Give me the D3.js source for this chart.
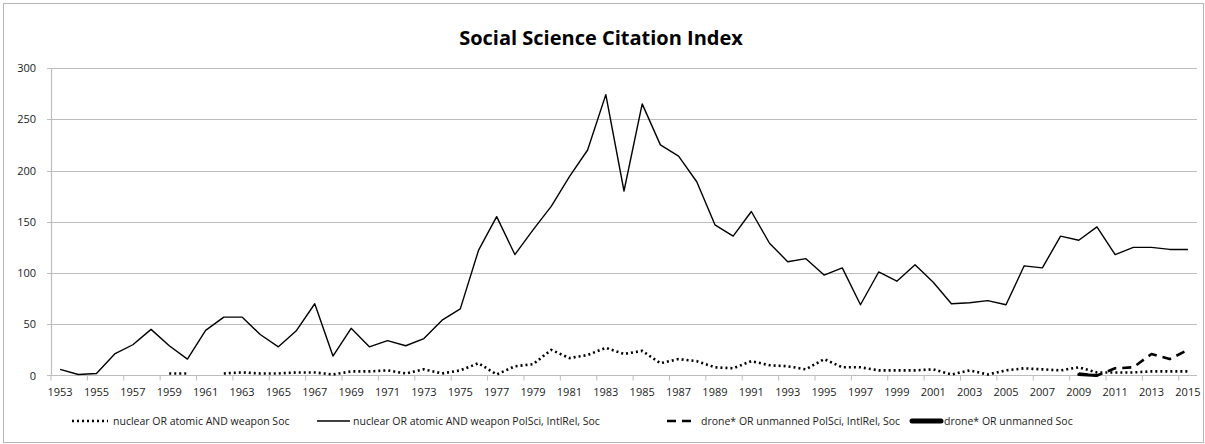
<!DOCTYPE html>
<html>
<head>
<meta charset="utf-8">
<script src="https://cdn.jsdelivr.net/npm/d3@7"></script>
<style>
  body { margin: 0; background: #fff; }
  text { font-family: "Open Sans", "Liberation Sans", sans-serif; }
</style>
</head>
<body>
<script>
var years = d3.range(1953, 2016);

// nuclear OR atomic AND weapon PolSci, IntlRel, Soc
var polsci = [6,1,2,21,30,45,29,16,44,57,57,40,28,44,70,19,46,28,34,29,36,54,65,122,155,118,142,165,194,220,
  274,180,265,225,214,189,147,136,160,129,111,114,98,105,69,101,92,108,91,70,71,73,69,107,105,136,132,145,118,125,125,123,123];
// nuclear OR atomic AND weapon Soc
var soc = [null,null,null,null,null,null,2,2,null,2,3,2,2,3,3,1,4,4,5,2,6,2,5,12,1,9,11,25,17,20,
  27,21,24,12,16,14,8,7,14,10,9,6,16,8,8,5,5,5,6,1,5,1,5,7,6,5,8,3,3,3,4,4,4];
// drone* OR unmanned PolSci, IntlRel, Soc (2009-2015)
var droneYears = [2009,2010,2011,2012,2013,2014,2015];
var dronePol = [2,0,7,8,21,16,25];
// drone* OR unmanned Soc (hidden under the others near zero)
var droneSoc = [1,0,null,null,null,null,null];

var yTicks = [0,50,100,150,200,250,300];
var legendLabels = ["nuclear OR atomic AND weapon Soc","nuclear OR atomic AND weapon PolSci, IntlRel, Soc",
  "drone* OR unmanned PolSci, IntlRel, Soc","drone* OR unmanned Soc"];

var W = 1205, H = 444;
var svg = d3.select("body").append("svg").attr("width", W).attr("height", H);

svg.append("rect").attr("x", 3.5).attr("y", 3.5).attr("width", W - 5).attr("height", H - 5)
  .attr("fill", "#fff").attr("stroke", "#b5b5b5");

var plotLeft = 51, plotRight = 1197, plotTop = 68, plotBottom = 375.5;

var x = d3.scaleBand().domain(years).range([plotLeft, plotRight]);
var y = d3.scaleLinear().domain([0, 300]).range([plotBottom, plotTop]);

svg.append("text").attr("x", 601).attr("y", 45).attr("text-anchor", "middle")
  .style("font-size", "20px").style("font-weight", "bold").text("Social Science Citation Index");

// grid
svg.selectAll("line.grid").data(yTicks.slice(1)).enter().append("line")
  .attr("class", "grid")
  .attr("x1", plotLeft - 4).attr("x2", plotRight)
  .attr("y1", function(d){ return Math.round(y(d)) + 0.5; })
  .attr("y2", function(d){ return Math.round(y(d)) + 0.5; })
  .attr("stroke", "#bdbdbd").attr("stroke-width", 1.2);

svg.selectAll("text.ylab").data(yTicks).enter().append("text")
  .attr("class", "ylab")
  .attr("x", 36).attr("y", function(d){ return y(d) + 4; })
  .attr("text-anchor", "end").style("font-size", "11px").attr("fill", "#222")
  .text(function(d){ return d; });

svg.append("line").attr("x1", plotLeft + 0.5).attr("x2", plotLeft + 0.5).attr("y1", plotTop).attr("y2", plotBottom)
  .attr("stroke", "#bdbdbd").attr("stroke-width", 1.2);

// x axis
var xAxis = svg.append("g").attr("transform", "translate(0," + plotBottom + ")");
xAxis.append("line").attr("x1", plotLeft - 4).attr("x2", plotRight).attr("stroke", "#bdbdbd").attr("stroke-width", 1.2);
var oddYears = years.filter(function(d){ return (d - 1953) % 2 === 0; });
xAxis.selectAll("line.tk").data(oddYears).enter().append("line")
  .attr("class", "tk")
  .attr("x1", function(d){ return x(d); }).attr("x2", function(d){ return x(d); })
  .attr("y1", 0).attr("y2", 5).attr("stroke", "#bdbdbd");
xAxis.selectAll("text").data(oddYears).enter().append("text")
  .attr("x", function(d){ return x(d) + x.bandwidth() / 2; }).attr("y", 20)
  .attr("text-anchor", "middle").style("font-size", "11px").attr("fill", "#222")
  .text(function(d){ return d; });

var cx = function(d){ return x(d[0]) + x.bandwidth() / 2; };
var line = d3.line().defined(function(d){ return d[1] !== null; })
  .x(cx).y(function(d){ return y(d[1]); });

var styles = [
  { dash: "2,3", width: 2.6, cap: "butt" },
  { dash: null, width: 1.4, cap: "butt" },
  { dash: "9,6", width: 2.6, cap: "butt" },
  { dash: null, width: 3, cap: "round" }
];
var legendWidth = [2.6, 1.4, 2.6, 5];

var series = [
  d3.zip(droneYears, droneSoc),
  d3.zip(years, soc),
  d3.zip(years, polsci),
  d3.zip(droneYears, dronePol)
];
var order = [3, 0, 1, 2];

series.forEach(function(s, k){
  var st = styles[order[k]];
  svg.append("path").datum(s)
    .attr("d", line)
    .attr("fill", "none").attr("stroke", "#000")
    .attr("stroke-width", st.width)
    .attr("stroke-dasharray", st.dash)
    .attr("stroke-linecap", st.cap)
    .attr("stroke-linejoin", "round");
});

// legend
var legendPos = [[72, 108, 113], [317, 350, 353], [667, 692, 701], [912, 941, 944]];
legendLabels.forEach(function(lbl, i){
  var p = legendPos[i];
  svg.append("line").attr("x1", p[0]).attr("x2", p[1]).attr("y1", 421).attr("y2", 421)
    .attr("stroke", "#000").attr("stroke-width", legendWidth[i])
    .attr("stroke-dasharray", styles[i].dash).attr("stroke-linecap", styles[i].cap);
  svg.append("text").attr("x", p[2]).attr("y", 425).style("font-size", "10.5px").attr("fill", "#222").text(lbl);
});
</script>
</body>
</html>
